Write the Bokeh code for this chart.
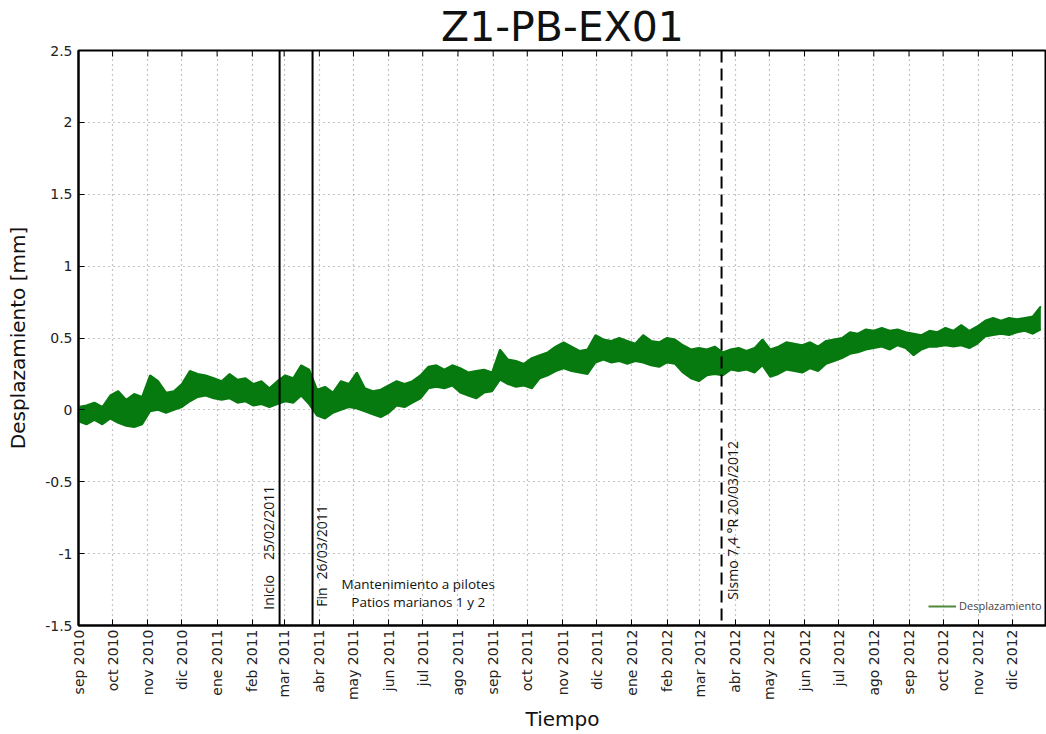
import numpy as np
import pandas as pd
from bokeh.plotting import figure
from bokeh.models import (FixedTicker, Span, Legend, LegendItem, ColumnDataSource, Range1d)
from bokeh.core.properties import value
from bokeh.embed import file_html
from bokeh.resources import INLINE

# ---------------- data ----------------
title_text = "Z1-PB-EX01"
series_name = "Desplazamiento"
series_start = "2010-09-01"   # first weekly sample

# weekly lower / upper envelope of the displacement record [mm]
disp_low = [
    -0.08, -0.10, -0.07, -0.10, -0.06, -0.09, -0.11, -0.12, -0.10, -0.01,
    0.00, -0.02, 0.00, 0.02, 0.06, 0.09, 0.10, 0.08, 0.07, 0.08,
    0.05, 0.06, 0.03, 0.04, 0.02, 0.04, 0.06, 0.05, 0.10, 0.04,
    -0.04, -0.06, -0.02, 0.00, 0.02, 0.01, -0.01, -0.03, -0.05, -0.02,
    0.03, 0.02, 0.05, 0.08, 0.15, 0.16, 0.15, 0.17, 0.12, 0.10,
    0.08, 0.12, 0.13, 0.21, 0.18, 0.16, 0.17, 0.15, 0.22, 0.24,
    0.27, 0.29, 0.27, 0.26, 0.25, 0.33, 0.35, 0.33, 0.34, 0.32,
    0.34, 0.33, 0.31, 0.30, 0.33, 0.32, 0.26, 0.22, 0.20, 0.24,
    0.25, 0.24, 0.28, 0.27, 0.28, 0.26, 0.31, 0.23, 0.25, 0.28,
    0.27, 0.26, 0.29, 0.27, 0.32, 0.34, 0.36, 0.39, 0.40, 0.42,
    0.43, 0.44, 0.42, 0.45, 0.43, 0.38, 0.42, 0.44, 0.44, 0.45,
    0.44, 0.45, 0.43, 0.46, 0.51, 0.52, 0.53, 0.52, 0.54, 0.55,
    0.53, 0.56,
]
disp_high = [
    0.02, 0.03, 0.05, 0.02, 0.10, 0.13, 0.07, 0.11, 0.09, 0.24,
    0.20, 0.12, 0.13, 0.18, 0.27, 0.25, 0.24, 0.22, 0.20, 0.25,
    0.21, 0.22, 0.18, 0.20, 0.15, 0.20, 0.24, 0.22, 0.31, 0.28,
    0.14, 0.16, 0.12, 0.20, 0.18, 0.26, 0.15, 0.13, 0.14, 0.17,
    0.20, 0.18, 0.20, 0.24, 0.30, 0.31, 0.28, 0.31, 0.29, 0.26,
    0.27, 0.28, 0.26, 0.42, 0.35, 0.34, 0.32, 0.36, 0.38, 0.40,
    0.44, 0.47, 0.44, 0.41, 0.42, 0.52, 0.49, 0.48, 0.50, 0.48,
    0.46, 0.52, 0.48, 0.47, 0.50, 0.49, 0.45, 0.42, 0.43, 0.42,
    0.44, 0.40, 0.42, 0.43, 0.41, 0.43, 0.49, 0.42, 0.44, 0.47,
    0.46, 0.45, 0.47, 0.44, 0.48, 0.49, 0.50, 0.54, 0.53, 0.56,
    0.55, 0.57, 0.55, 0.56, 0.54, 0.53, 0.52, 0.55, 0.54, 0.57,
    0.55, 0.59, 0.55, 0.58, 0.62, 0.64, 0.62, 0.64, 0.63, 0.64,
    0.65, 0.72,
]
week_dates = pd.date_range(series_start, periods=len(disp_low), freq="7D")

x_start, x_end = "2010-09-01", "2012-12-31"
month_abbr = ["ene", "feb", "mar", "abr", "may", "jun",
              "jul", "ago", "sep", "oct", "nov", "dic"]
month_starts = pd.date_range("2010-09-01", "2012-12-01", freq="MS")
month_labels = [f"{month_abbr[d.month - 1]} {d.year}" for d in month_starts]

y_ticks = [-1.5, -1.0, -0.5, 0.0, 0.5, 1.0, 1.5, 2.0, 2.5]
y_labels = ["-1.5", "-1", "-0.5", "0", "0.5", "1", "1.5", "2", "2.5"]

# events (vertical markers)
work_start = "2011-02-25"
work_end = "2011-03-26"
quake_date = "2012-03-20"

# rotated annotation texts
ann_text = ["Inicio", "25/02/2011", "Fin", "26/03/2011", "Sismo 7,4 °R 20/03/2012"]
ann_date = [work_start, work_start, work_end, work_end, quake_date]
ann_y = [-1.39, -1.045, -1.37, -1.18, -1.32]
ann_dx = [-11, -11, 9, 9, 11]

# horizontal note
note_text = ["Mantenimiento a pilotes", "Patios marianos 1 y 2"]
note_date = ["2011-06-27", "2011-06-27"]
note_y = [-1.21, -1.335]


def ms(d):
    return int(pd.Timestamp(d).value // 10**6)


month_ms = [ms(d) for d in month_starts]

# ---------------- figure ----------------
p = figure(width=1046, height=734, x_axis_type="datetime",
           output_backend="svg", toolbar_location=None,
           x_range=Range1d(pd.Timestamp(x_start), pd.Timestamp(x_end)),
           y_range=Range1d(-1.5, 2.5),
           min_border_left=78, min_border_right=0, min_border_top=0,
           min_border_bottom=0)

p.title.text = title_text
p.title.align = "center"
p.title.text_font = "DejaVu Sans"
p.title.text_font_size = "41px"
p.title.text_font_style = "normal"
p.title.text_color = "#111111"
p.title.standoff = 0
p.title.offset = 0

p.outline_line_color = "black"
p.outline_line_width = 2
p.background_fill_color = "white"
p.border_fill_color = "white"

# x axis
xa = p.xaxis[0]
xa.ticker = FixedTicker(ticks=month_ms)
xa.major_label_overrides = {t: l for t, l in zip(month_ms, month_labels)}
xa.major_label_orientation = np.pi / 2
xa.axis_label = "Tiempo"
# y axis
ya = p.yaxis[0]
ya.ticker = FixedTicker(ticks=y_ticks)
ya.major_label_overrides = {t: l for t, l in zip(y_ticks, y_labels)}
ya.axis_label = "Desplazamiento [mm]"

for ax in (xa, ya):
    ax.axis_label_text_font = "DejaVu Sans"
    ax.axis_label_text_font_size = "20px"
    ax.axis_label_text_font_style = "normal"
    ax.axis_label_text_color = "#111111"
    ax.major_label_text_font = "DejaVu Sans"
    ax.major_label_text_font_size = "14px"
    ax.major_label_text_color = "#222222"
    ax.major_tick_in = 6
    ax.major_tick_out = 0
    ax.major_tick_line_color = "black"
    ax.minor_tick_line_color = None
    ax.axis_line_color = "black"
    ax.axis_line_width = 2
xa.major_label_standoff = 4
xa.axis_label_standoff = 4
ya.major_label_standoff = 6
ya.axis_label_standoff = 12

for g in (p.xgrid[0], p.ygrid[0]):
    g.grid_line_color = "#8c8c8c"
    g.grid_line_dash = "1 4"
    g.grid_line_width = 1.2
p.xgrid[0].ticker = FixedTicker(ticks=month_ms)
p.ygrid[0].ticker = FixedTicker(ticks=y_ticks)

# mirrored tick marks along the top edge (half of each vertical dash is clipped by the frame)
top_src = ColumnDataSource(dict(x=month_starts, y=[y_ticks[-1]] * len(month_starts)))
p.scatter(x="x", y="y", source=top_src, marker="dash", angle=np.pi / 2, size=12,
          line_color="black", line_width=1)

# series band
src = ColumnDataSource(dict(x=week_dates, lo=disp_low, hi=disp_high))
p.varea(x="x", y1="lo", y2="hi", source=src, fill_color="#06790f")
p.line(x="x", y="hi", source=src, line_color="#06790f", line_width=2)
p.line(x="x", y="lo", source=src, line_color="#06790f", line_width=2)

# event lines
for d, dash in ((work_start, "solid"), (work_end, "solid"), (quake_date, "12 6")):
    p.add_layout(Span(location=ms(d), dimension="height", line_color="black",
                      line_width=2, line_dash=dash))

ann_src = ColumnDataSource(dict(x=pd.to_datetime(ann_date), y=ann_y, t=ann_text, dx=ann_dx))
p.text(x="x", y="y", text="t", x_offset="dx", source=ann_src, angle=np.pi / 2,
       text_align="left", text_baseline="middle", text_font=value("Open Sans"),
       text_font_size="14px", text_color="#111111")

note_src = ColumnDataSource(dict(x=pd.to_datetime(note_date), y=note_y, t=note_text))
p.text(x="x", y="y", text="t", source=note_src, text_align="center",
       text_baseline="middle", text_font=value("Open Sans"), text_font_size="13.5px",
       text_color="#111111")

# legend (line sample)
leg_src = ColumnDataSource(dict(x=[week_dates[0]], y=[np.nan]))
leg_line = p.line(x="x", y="y", source=leg_src, line_color="#4f8a3a", line_width=2)
legend = Legend(items=[LegendItem(label=series_name, renderers=[leg_line])],
                location=(850, 12), background_fill_alpha=0, border_line_color=None,
                label_text_font="Open Sans", label_text_font_size="11px",
                glyph_width=28, glyph_height=10, padding=2, margin=0, spacing=0,
                label_standoff=3)
p.add_layout(legend)

open("out.html", "w").write(file_html(p, INLINE))
